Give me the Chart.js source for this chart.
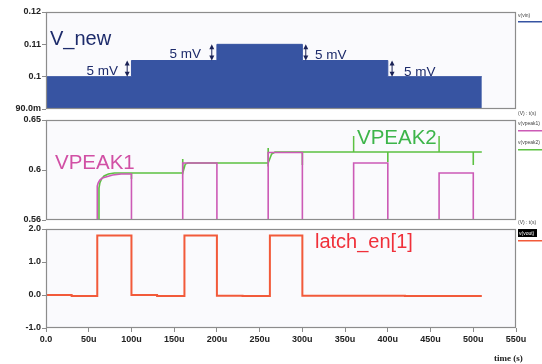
<!DOCTYPE html>
<html>
<head>
<meta charset="utf-8">
<script src="https://cdn.jsdelivr.net/npm/chart.js@4.4.0/dist/chart.umd.min.js"></script>
<style>
  html, body { margin: 0; padding: 0; background: #fff; }
  #wrap { position: relative; width: 542px; height: 364px; }
  canvas { position: absolute; left: 0; top: 0; }
</style>
</head>
<body>
<div id="wrap">
  <canvas id="c1" width="542" height="364"></canvas>
  <canvas id="c2" width="542" height="364"></canvas>
  <canvas id="c3" width="542" height="364"></canvas>
</div>
<script>
// time axis (microseconds)
const xTicks = [0, 50, 100, 150, 200, 250, 300, 350, 400, 450, 500, 550]
const xTickLabels = ['0.0', '50u', '100u', '150u', '200u', '250u', '300u', '350u', '400u', '450u', '500u', '550u']

// panel 1 : v(vin)
const vinTicks = [0.09, 0.10, 0.11, 0.12]
const vinTickLabels = ['90.0m', '0.1', '0.11', '0.12']
const vinTimes = [0, 100, 200, 300, 400, 510]
const vinLevels = [0.100, 0.105, 0.110, 0.105, 0.100, 0.100]

// panel 2 : v(vpeak1), v(vpeak2)
const peakTicks = [0.55, 0.60, 0.65]
const peakTickLabels = ['0.56', '0.6', '0.65']
const vpeak1Times = [0, 60, 60, 61, 63, 66, 70, 78, 88, 100, 100, 160, 160, 200, 200, 260, 260, 300, 300, 360, 360, 400, 400, 460, 460, 500, 500, 510]
const vpeak1Values = [0.54, 0.54, 0.584, 0.587, 0.590, 0.592, 0.593, 0.595, 0.596, 0.596, 0.54, 0.54, 0.607, 0.607, 0.54, 0.54, 0.6175, 0.6175, 0.54, 0.54, 0.607, 0.607, 0.54, 0.54, 0.597, 0.597, 0.54, 0.54]
const vpeak2Times = [0, 62, 62, 63, 65, 68, 73, 80, 100, 100, 100, 160, 160, 160, 163, 166, 260, 260, 260, 264, 268, 300, 300, 300, 400, 400, 400, 500, 500, 500, 510]
const vpeak2Values = [0.54, 0.54, 0.582, 0.587, 0.591, 0.594, 0.596, 0.597, 0.597, 0.591, 0.597, 0.597, 0.611, 0.597, 0.606, 0.607, 0.607, 0.622, 0.607, 0.616, 0.618, 0.618, 0.605, 0.618, 0.618, 0.608, 0.618, 0.618, 0.605, 0.618, 0.618]
const vpeak2Marks = [360, 460]          // bracket round the VPEAK2 label
const vpeak2MarkTop = 0.634

// panel 3 : v(vout)  latch_en[1]
const voutTicks = [-1, 0, 1, 2]
const voutTickLabels = ['-1.0', '0.0', '1.0', '2.0']
const voutTimes = [0, 30, 30, 60, 60, 100, 100, 130, 130, 162, 162, 200, 200, 230, 230, 262, 262, 300, 300, 420, 420, 510]
const voutValues = [0, 0, -0.03, -0.03, 1.8, 1.8, 0, 0, -0.03, -0.03, 1.8, 1.8, -0.02, -0.02, -0.03, -0.03, 1.8, 1.8, -0.02, -0.02, -0.03, -0.03]

// step annotations in panel 1 : [time, from, to]
const stepArrows = [[95, 0.100, 0.105], [194, 0.105, 0.110], [304, 0.110, 0.105], [405, 0.105, 0.100]]

const BLUE = '#3754a2'
const MAGENTA = '#cc5ab6'
const GREEN = '#5cc142'
const RED = '#f25a3a'
const FONT = 'Liberation Sans, Arial, sans-serif'

const pts = (xs, ys) => xs.map((x, i) => ({ x: x, y: ys[i] }))

const frame = {
  id: 'frame',
  beforeDatasetsDraw(chart) {
    const a = chart.chartArea, ctx = chart.ctx
    ctx.save()
    ctx.fillStyle = '#fafafd'
    ctx.fillRect(a.left, a.top, a.right - a.left, a.bottom - a.top)
    ctx.restore()
  },
  afterDraw(chart) {
    const a = chart.chartArea, ctx = chart.ctx
    ctx.save()
    ctx.strokeStyle = '#8c8c8c'
    ctx.lineWidth = 1.2
    ctx.strokeRect(a.left + 0.5, a.top + 0.5, a.right - a.left - 1, a.bottom - a.top - 1)
    ctx.restore()
  }
}

function panel(id, top, bottom, yMin, yMax, yTicks, yLabels, datasets, showX, draw) {
  return new Chart(document.getElementById(id), {
    type: 'line',
    data: { datasets: datasets },
    options: {
      responsive: false,
      animation: false,
      devicePixelRatio: 1,
      layout: { padding: { left: 0, right: 26, top: top, bottom: showX ? 364 - bottom - 20 : 364 - bottom } },
      plugins: { legend: { display: false }, tooltip: { enabled: false } },
      elements: { point: { radius: 0 }, line: { tension: 0 } },
      scales: {
        x: {
          type: 'linear', min: 0, max: 550, display: showX,
          afterBuildTicks: s => { s.ticks = xTicks.map(v => ({ value: v })) },
          afterFit: s => { s.height = showX ? 20 : 0 },
          border: { display: false },
          grid: { drawOnChartArea: false, tickLength: 4, color: '#8c8c8c' },
          ticks: { autoSkip: false, maxRotation: 0, padding: 2, color: '#222', font: { family: FONT, size: 9, weight: 'bold' },
                   callback: (v, i) => xTickLabels[i] }
        },
        y: {
          type: 'linear', min: yMin, max: yMax,
          afterBuildTicks: s => { s.ticks = yTicks.map(v => ({ value: v })) },
          afterFit: s => { s.width = 46 },
          border: { display: false },
          grid: { drawOnChartArea: false, tickLength: 4, color: '#8c8c8c' },
          ticks: { autoSkip: false, padding: 1, color: '#222', font: { family: FONT, size: 9, weight: 'bold' },
                   callback: (v, i) => yLabels[i] }
        }
      }
    },
    plugins: [frame, { id: 'notes', afterDraw: draw }]
  })
}

function text(ctx, s, x, y, color, size, align) {
  ctx.fillStyle = color
  ctx.font = size + 'px ' + FONT
  ctx.textAlign = align || 'left'
  ctx.textBaseline = 'alphabetic'
  ctx.fillText(s, x, y)
}

function arrow(ctx, x, y1, y2) {
  ctx.strokeStyle = '#1a2256'
  ctx.fillStyle = '#1a2256'
  ctx.lineWidth = 1
  ctx.beginPath(); ctx.moveTo(x, y1 + 3); ctx.lineTo(x, y2 - 3); ctx.stroke()
  ctx.beginPath(); ctx.moveTo(x, y1); ctx.lineTo(x - 2.5, y1 + 5); ctx.lineTo(x + 2.5, y1 + 5); ctx.fill()
  ctx.beginPath(); ctx.moveTo(x, y2); ctx.lineTo(x - 2.5, y2 - 5); ctx.lineTo(x + 2.5, y2 - 5); ctx.fill()
}

panel('c1', 12, 109, 0.09, 0.12, vinTicks, vinTickLabels, [{
  data: pts(vinTimes, vinLevels), stepped: true, fill: 'start',
  backgroundColor: BLUE, borderColor: BLUE, borderWidth: 1
}], false, chart => {
  const ctx = chart.ctx, x = chart.scales.x, y = chart.scales.y, a = chart.chartArea
  ctx.save()
  text(ctx, 'V_new', a.left + 4, a.top + 33, '#1d2b6b', 20)
  stepArrows.forEach(s => {
    const hi = Math.max(s[1], s[2]), lo = Math.min(s[1], s[2])
    arrow(ctx, x.getPixelForValue(s[0]), y.getPixelForValue(hi), y.getPixelForValue(lo))
  })
  text(ctx, '5 mV', 118, 75, '#1d2b6b', 13.5, 'right')
  text(ctx, '5 mV', 201, 58, '#1d2b6b', 13.5, 'right')
  text(ctx, '5 mV', 315, 59, '#1d2b6b', 13.5)
  text(ctx, '5 mV', 404, 76, '#1d2b6b', 13.5)
  // side legend
  text(ctx, 'v(vin)', 518, 17, '#444', 5)
  ctx.fillStyle = BLUE; ctx.fillRect(518, 21, 24, 1.5)
  ctx.restore()
})

panel('c2', 120, 220, 0.55, 0.65, peakTicks, peakTickLabels, [
  { data: pts(vpeak1Times, vpeak1Values), borderColor: MAGENTA, borderWidth: 1.6 },
  { data: pts(vpeak2Times, vpeak2Values), borderColor: GREEN, borderWidth: 1.6 }
], false, chart => {
  const ctx = chart.ctx, x = chart.scales.x, y = chart.scales.y, a = chart.chartArea
  ctx.save()
  ctx.strokeStyle = GREEN; ctx.lineWidth = 1.5
  vpeak2Marks.forEach(t => {
    const px = x.getPixelForValue(t)
    ctx.beginPath(); ctx.moveTo(px, y.getPixelForValue(0.618)); ctx.lineTo(px, y.getPixelForValue(vpeak2MarkTop)); ctx.stroke()
  })
  text(ctx, 'VPEAK1', 55, 169, '#d150a5', 20.5)
  text(ctx, 'VPEAK2', 357, 144, '#3db54a', 20.5)
  text(ctx, '(V) : t(s)', 518, 115, '#444', 5)
  text(ctx, 'v(vpeak1)', 518, 125, '#444', 5)
  ctx.fillStyle = MAGENTA; ctx.fillRect(518, 130, 24, 1.5)
  text(ctx, 'v(vpeak2)', 518, 144, '#444', 5)
  ctx.fillStyle = GREEN; ctx.fillRect(518, 149, 24, 1.5)
  ctx.restore()
})

panel('c3', 229, 328, -1, 2, voutTicks, voutTickLabels, [
  { data: pts(voutTimes, voutValues), borderColor: RED, borderWidth: 2 }
], true, chart => {
  const ctx = chart.ctx
  ctx.save()
  text(ctx, 'latch_en[1]', 315, 248, '#f0303a', 20)
  text(ctx, '(V) : t(s)', 518, 224, '#444', 5)
  ctx.fillStyle = '#000'; ctx.fillRect(518, 229, 19, 8)
  text(ctx, 'v(vout)', 519, 235, '#fff', 5)
  ctx.fillStyle = RED; ctx.fillRect(518, 240, 24, 1.5)
  ctx.fillStyle = '#222'
  ctx.font = 'bold 9px Liberation Serif, serif'
  ctx.textAlign = 'left'
  ctx.fillText('time (s)', 494, 361)
  ctx.restore()
})
</script>
</body>
</html>
